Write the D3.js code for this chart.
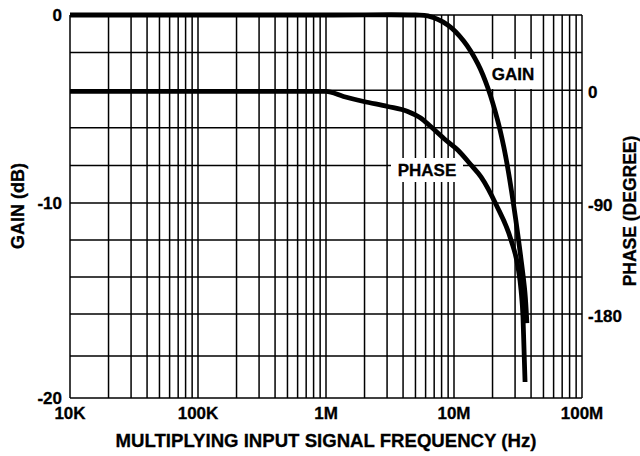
<!DOCTYPE html>
<html>
<head>
<meta charset="utf-8">
<script src="https://cdn.jsdelivr.net/npm/d3@7"></script>
<style>
  body { margin: 0; background: #fff; }
  text { font-family: "Liberation Sans", Arial, sans-serif; font-weight: bold; fill: #000; stroke: #000; stroke-width: 0.3; }
  .grid line { stroke: #000; stroke-width: 1.5; }
  .curve { fill: none; stroke: #000; stroke-width: 4.8; }
</style>
</head>
<body>
<svg width="640" height="456"></svg>
<script>
// frequency axis (Hz)
const freqTicks = [1e4, 1e5, 1e6, 1e7, 1e8];
const freqLabels = ["10K", "100K", "1M", "10M", "100M"];

// left axis
const gainTicks = [0, -10, -20];
// right axis
const phaseTicks = [0, -90, -180];

// gain curve
const gainFreq = [1e4, 1e6, 5e6, 6.24e6, 8.93e6, 11.9e6, 15.4e6, 18.4e6, 22e6, 24.5e6, 26.8e6, 30.4e6, 33.3e6, 35.8e6, 37.1e6];
const gainDb   = [0, 0, 0, -0.05, -0.53, -1.38, -2.61, -3.88, -5.64, -7.02, -8.46, -10.92, -12.97, -14.81, -16.43];

// phase curve
const phaseFreq = [1e4, 1e6, 1.37e6, 1.97e6, 3.03e6, 4.35e6, 5.49e6, 6.58e6, 8.6e6, 10.7e6, 13.6e6, 16.3e6, 21.4e6, 27.9e6, 31.6e6, 33.4e6, 34.6e6, 35.9e6];
const phaseDeg  = [-1, -1, -5, -9, -13, -17, -22.2, -29, -39.7, -47.7, -59.7, -69.3, -91.6, -120, -141.9, -160.5, -182.1, -228.6];

let svg = d3.select("svg");
const plotL = 70, plotR = 582, plotT = 15, plotB = 398;

let x = d3.scaleLog().domain([1e4, 1e8]).range([plotL, plotR]);
// the printed grid is slightly uneven toward the bottom
let yGain = d3.scaleLinear().domain([0, -10, -16, -20]).range([plotT, 203, 314, plotB]);
// phase grid shares the gain lines: 30 degrees per 2 dB line, 0 deg on the -4 dB line
let yPhase = d3.scaleLinear().domain([60, -90, -180, -240]).range([plotT, 203, 314, plotB]);

// vertical grid: 1..9 per decade
let vlines = [];
for (let d = 1e4; d < 1e8; d *= 10) {
    for (let k = 1; k < 10; k++) vlines.push(d * k);
}
vlines.push(1e8);

let grid = svg.append("g").attr("class", "grid");
grid.selectAll(".v")
    .data(vlines)
    .enter().append("line")
    .attr("x1", d => x(d)).attr("x2", d => x(d))
    .attr("y1", plotT).attr("y2", plotB);

grid.selectAll(".h")
    .data(d3.range(0, -21, -2))
    .enter().append("line")
    .attr("x1", plotL).attr("x2", plotR)
    .attr("y1", d => yGain(d)).attr("y2", d => yGain(d));

// tick labels
svg.append("g").selectAll("text")
    .data(gainTicks)
    .enter().append("text")
    .attr("x", 62)
    .attr("y", d => yGain(d))
    .attr("dy", "0.36em")
    .attr("text-anchor", "end")
    .style("font-size", "17px")
    .text(d => d);

svg.append("g").selectAll("text")
    .data(phaseTicks)
    .enter().append("text")
    .attr("x", 588)
    .attr("y", d => yPhase(d) + 2)
    .attr("dy", "0.36em")
    .style("font-size", "17px")
    .text(d => d);

svg.append("g").selectAll("text")
    .data(freqTicks)
    .enter().append("text")
    .attr("x", d => x(d))
    .attr("y", 419)
    .attr("text-anchor", "middle")
    .style("font-size", "17px")
    .text((d, i) => freqLabels[i]);

// axis titles
svg.append("text")
    .attr("x", 326).attr("y", 447)
    .attr("text-anchor", "middle")
    .style("font-size", "18.6px")
    .text("MULTIPLYING INPUT SIGNAL FREQUENCY (Hz)");

svg.append("text")
    .attr("transform", "translate(24,206) rotate(-90)")
    .attr("text-anchor", "middle")
    .style("font-size", "18px")
    .text("GAIN (dB)");

svg.append("text")
    .attr("transform", "translate(636,211) rotate(-90)")
    .attr("text-anchor", "middle")
    .style("font-size", "17.5px")
    .text("PHASE (DEGREE)");

// curve labels on white boxes
function label(txt, cx, cy, w, h) {
    svg.append("rect")
        .attr("x", cx - w / 2).attr("y", cy - h / 2)
        .attr("width", w).attr("height", h)
        .attr("fill", "#fff");
    svg.append("text")
        .attr("x", cx).attr("y", cy)
        .attr("dy", "0.36em")
        .attr("text-anchor", "middle")
        .style("font-size", "17px")
        .text(txt);
}
label("GAIN", 513, 74, 50, 30);
label("PHASE", 427, 170, 72, 24);

// curves
let gainLine = d3.line()
    .x(d => x(d[0]))
    .y(d => yGain(d[1]))
    .curve(d3.curveCatmullRom.alpha(0.5));

let phaseLine = d3.line()
    .x(d => x(d[0]))
    .y(d => yPhase(d[1]))
    .curve(d3.curveMonotoneX);

svg.append("path")
    .attr("class", "curve")
    .attr("d", gainLine(d3.zip(gainFreq, gainDb)));

svg.append("path")
    .attr("class", "curve")
    .attr("d", phaseLine(d3.zip(phaseFreq, phaseDeg)));
</script>
</body>
</html>
